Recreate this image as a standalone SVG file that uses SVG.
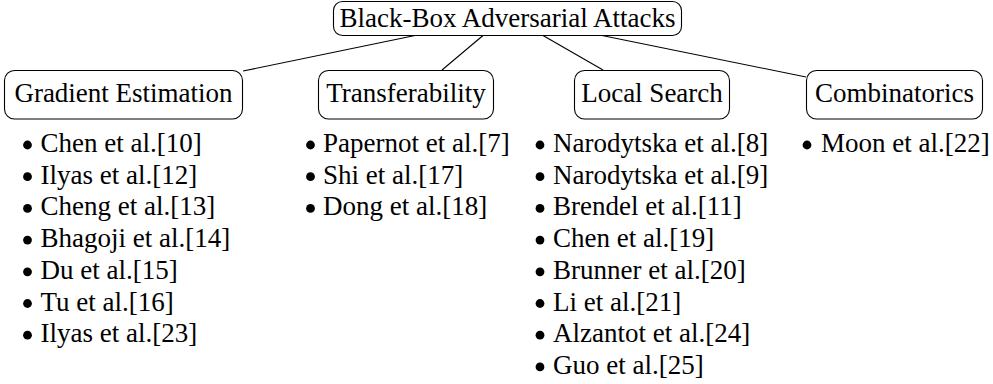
<svg xmlns="http://www.w3.org/2000/svg" width="993" height="384" viewBox="0 0 993 384" font-family="Liberation Serif" font-size="27">
<style>
.box{fill:#fff;stroke:#000;stroke-width:1.1}
.edge{stroke:#000;stroke-width:1.1;fill:none}
</style>
<defs><circle id="b" r="4.4"/></defs>
<rect width="993" height="384" fill="#fff"/>
<g id="connectors">
<line class="edge" x1="415" y1="35.5" x2="243" y2="71"/>
<line class="edge" x1="483" y1="35.5" x2="442" y2="70"/>
<line class="edge" x1="543" y1="35.5" x2="603" y2="70"/>
<line class="edge" x1="602" y1="35.5" x2="806" y2="77"/>
</g>
<g id="root">
<rect class="box" x="333.5" y="1.5" width="348" height="34" rx="9"/>
<text x="507.5" y="27" text-anchor="middle" font-family="Liberation Serif">Black-Box Adversarial Attacks</text>
</g>
<g id="gradient">
<rect class="box" x="4.5" y="70.5" width="238" height="48.5" rx="10"/>
<text x="123.5" y="102" text-anchor="middle" font-family="Liberation Serif">Gradient Estimation</text>
</g>
<g id="transfer">
<rect class="box" x="318.5" y="70.5" width="175" height="48.5" rx="10"/>
<text x="406" y="102" text-anchor="middle" font-family="Liberation Serif">Transferability</text>
</g>
<g id="local">
<rect class="box" x="574.5" y="70.5" width="155" height="48.5" rx="10"/>
<text x="652" y="102" text-anchor="middle" font-family="Liberation Serif">Local Search</text>
</g>
<g id="combinatorics">
<rect class="box" x="806.5" y="70.5" width="176" height="48.5" rx="10"/>
<text x="894.5" y="102" text-anchor="middle" font-family="Liberation Serif">Combinatorics</text>
</g>
<g id="gradient-list" font-family="Liberation Serif">
<use href="#b" x="27.5" y="145"/><text x="40.5" y="152">Chen et al.[10]</text>
<use href="#b" x="27.5" y="176.7"/><text x="40.5" y="183.7">Ilyas et al.[12]</text>
<use href="#b" x="27.5" y="208.4"/><text x="40.5" y="215.4">Cheng et al.[13]</text>
<use href="#b" x="27.5" y="240.1"/><text x="40.5" y="247.1">Bhagoji et al.[14]</text>
<use href="#b" x="27.5" y="271.8"/><text x="40.5" y="278.8">Du et al.[15]</text>
<use href="#b" x="27.5" y="303.5"/><text x="40.5" y="310.5">Tu et al.[16]</text>
<use href="#b" x="27.5" y="335.2"/><text x="40.5" y="342.2">Ilyas et al.[23]</text>
</g>
<g id="transfer-list" font-family="Liberation Serif">
<use href="#b" x="310.5" y="145"/><text x="323" y="152">Papernot et al.[7]</text>
<use href="#b" x="310.5" y="176.7"/><text x="323" y="183.7">Shi et al.[17]</text>
<use href="#b" x="310.5" y="208.4"/><text x="323" y="215.4">Dong et al.[18]</text>
</g>
<g id="local-list" font-family="Liberation Serif">
<use href="#b" x="540" y="145"/><text x="553" y="152">Narodytska et al.[8]</text>
<use href="#b" x="540" y="176.7"/><text x="553" y="183.7">Narodytska et al.[9]</text>
<use href="#b" x="540" y="208.4"/><text x="553" y="215.4">Brendel et al.[11]</text>
<use href="#b" x="540" y="240.1"/><text x="553" y="247.1">Chen et al.[19]</text>
<use href="#b" x="540" y="271.8"/><text x="553" y="278.8">Brunner et al.[20]</text>
<use href="#b" x="540" y="303.5"/><text x="553" y="310.5">Li et al.[21]</text>
<use href="#b" x="540" y="335.2"/><text x="553" y="342.2">Alzantot et al.[24]</text>
<use href="#b" x="540" y="366.9"/><text x="553" y="373.9">Guo et al.[25]</text>
</g>
<g id="comb-list" font-family="Liberation Serif">
<use href="#b" x="807" y="145"/><text x="821" y="152">Moon et al.[22]</text>
</g>
</svg>
